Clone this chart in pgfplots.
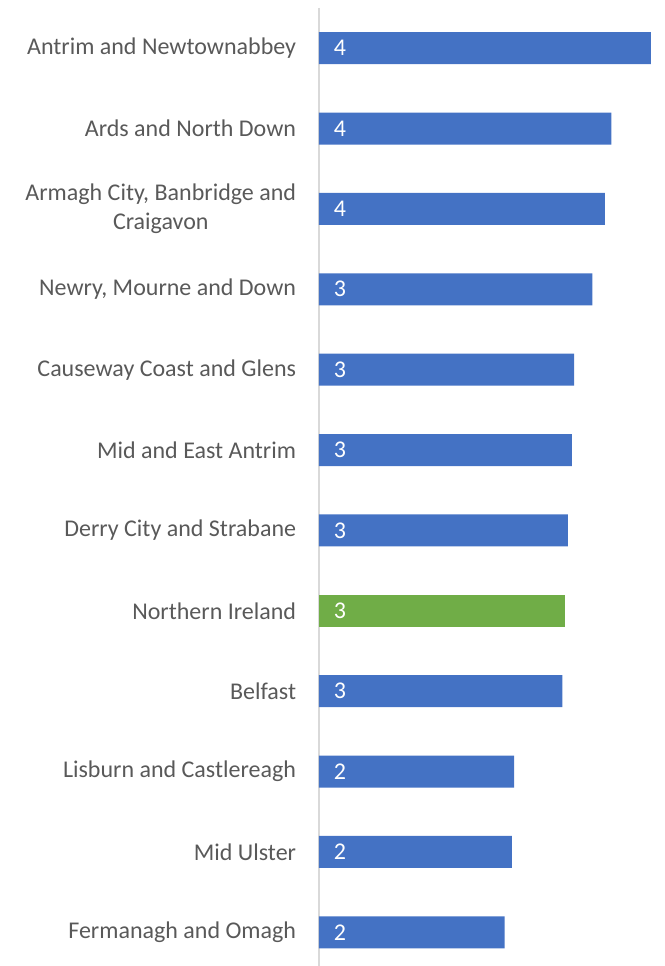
\documentclass[border=0pt]{standalone}
\usepackage{fontspec}
\setmainfont{Carlito}
\usepackage{pgfplots}
\pgfplotsset{compat=1.18}
\definecolor{barblue}{HTML}{4472C4}
\definecolor{bargreen}{HTML}{70AD47}
\definecolor{labgray}{HTML}{595959}
\definecolor{axgray}{HTML}{D9D9D9}
\begin{document}
\begin{tikzpicture}
\begin{axis}[
  name=ax,
  scale only axis,
  width=258.75pt, height=718.5pt,
  xmin=0, xmax=4.367,
  ymin=-0.5, ymax=11.42,
  y dir=reverse,
  axis x line=none,
  axis y line=left,
  y axis line style={draw=axgray, line width=1.1pt, -},
  xtick=\empty,
  ytick={0,...,11},
  yticklabels={Antrim and Newtownabbey, Ards and North Down, {Armagh City, Banbridge and\\Craigavon}, {Newry, Mourne and Down}, Causeway Coast and Glens, Mid and East Antrim, Derry City and Strabane, Northern Ireland, Belfast, Lisburn and Castlereagh, Mid Ulster, Fermanagh and Omagh},
  major tick length=0pt,
  ytick style={draw=none},
  yticklabel style={font=\fontsize{18}{21.75}\selectfont, text=labgray, align=center, anchor=east, inner sep=0pt, xshift=-17pt},
  bar width=24pt,
  bar shift=0pt,
  clip=false,
]
\addplot[xbar, fill=barblue, draw=none] coordinates {
  (4.20,0) (3.70,1) (3.62,2) (3.46,3) (3.23,4) (3.20,5) (3.15,6) (3.08,8) (2.47,9) (2.44,10) (2.35,11)
};
\addplot[xbar, fill=bargreen, draw=none] coordinates {
  (3.11,7)
};
\addplot[draw=none, mark=none, nodes near coords, point meta=explicit symbolic,
  nodes near coords style={anchor=west, inner sep=0pt, xshift=11pt, text=white, font=\fontsize{18}{21.75}\selectfont}]
  coordinates {
  (0,0) [4] (0,1) [4] (0,2) [4] (0,3) [3] (0,4) [3] (0,5) [3] (0,6) [3] (0,7) [3] (0,8) [3] (0,9) [2] (0,10) [2] (0,11) [2]
};
\end{axis}
\pgfresetboundingbox
\path[use as bounding box] ([xshift=-239.25pt, yshift=6pt]ax.north west) rectangle (ax.south east);
\end{tikzpicture}
\end{document}
